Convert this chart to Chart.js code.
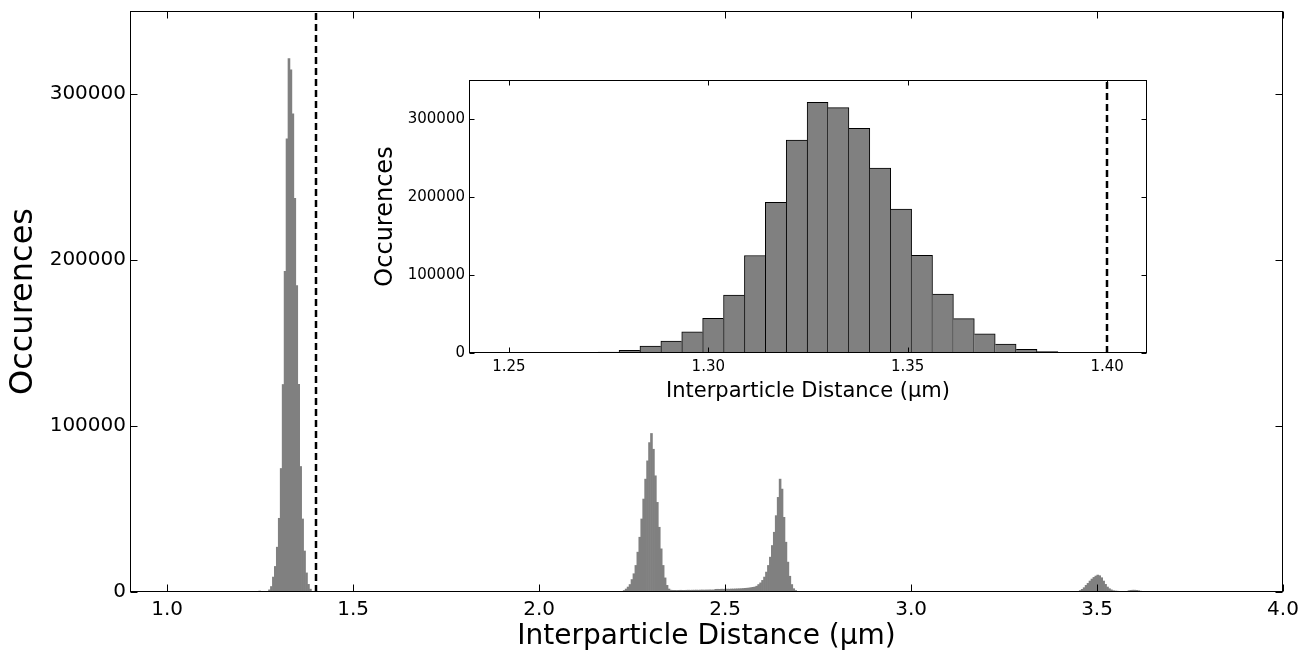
<!DOCTYPE html>
<html>
<head>
<meta charset="utf-8">
<script src="https://cdn.jsdelivr.net/npm/chart.js@4.4.1/dist/chart.umd.min.js"></script>
<style>
  html, body { margin: 0; padding: 0; background: #fff; }
  #wrap { position: relative; width: 1309px; height: 651px; overflow: hidden; }
  #main { position: absolute; left: 0; top: 0; }
  #inset { position: absolute; left: 360px; top: 60px; }
</style>
</head>
<body>
<div id="wrap">
  <canvas id="main" width="1309" height="651"></canvas>
  <canvas id="inset" width="800" height="342"></canvas>
</div>
<script>
// ---------------- data ----------------
const binWidth = 0.00524;          // histogram bin width (µm)
const firstBinCenter = 1.2488;     // centre of bin 0 (µm)

// first-neighbour peak (bins 0..26) - also shown in the inset
const peak1StartBin = 0;
const peak1Counts = [600, 0, 0, 0, 0, 1300, 3300, 9000, 15400, 27000, 44400, 74400,
  125000, 193100, 273000, 321300, 314500, 288000, 237200, 184600, 125100, 75600,
  44000, 24700, 11500, 4600, 1700];

// second and third peaks with the plateau between them (bins 186..277)
const peak2StartBin = 186;
const peak2Counts = [400, 900, 1800, 3000, 4500, 7500, 11000, 16000, 24000, 33000,
  44000, 56000, 68000, 79000, 90000, 95500, 86000, 70000, 54000, 39000, 26000, 16000,
  8500, 4000, 1800, 1100,
  1000, 1000, 950, 1000, 1050, 1000, 1000, 1050, 1100, 1050, 1100, 1100, 1150, 1100,
  1150, 1200, 1150, 1200, 1200, 1250, 1200, 1250,
  1600, 1650, 1600, 1700, 1650, 1700, 1750, 1700, 1800, 1800, 1850, 1900, 1950, 2000, 2100,
  2200, 2300, 2400, 2600, 2800,
  3000, 3500, 4500, 5500, 7000, 9000, 12000, 16000, 21000, 28000, 36000, 46000, 57000,
  68000, 62000, 45000, 30000, 18000, 9500, 4500, 2000, 900, 400, 150];

// fourth peak and the small bump after it (bins 419..453)
const peak4StartBin = 419;
const peak4Counts = [200, 400, 900, 1600, 2600, 4000, 5200, 6600, 7800, 8800, 9600,
  10200, 9800, 8600, 6600, 4600, 3000, 2000, 1300, 800, 600, 500, 400, 400, 350, 350,
  400, 800, 1000, 1100, 1100, 1000, 800, 500, 200];

const thresholdDistance = 1.40;
const mainXTicks = [1.0, 1.5, 2.0, 2.5, 3.0, 3.5, 4.0];
const insetXTicks = [1.25, 1.30, 1.35, 1.40];
const yTicks = [0, 100000, 200000, 300000];

const xTitle = 'Interparticle Distance (μm)';
const yTitle = 'Occurences';

// ---------------- build points ----------------
function binCenter(k) { return firstBinCenter + k * binWidth; }
function segment(startBin, counts) {
  return counts.map((c, i) => ({ x: binCenter(startBin + i), y: c }));
}
const mainPoints = [
  ...segment(peak1StartBin, peak1Counts),
  ...segment(peak2StartBin, peak2Counts),
  ...segment(peak4StartBin, peak4Counts)
];
const insetPoints = segment(peak1StartBin, peak1Counts);

Chart.defaults.font.family = "'DejaVu Sans', sans-serif";
Chart.defaults.color = '#000';

// frame, inward ticks on all four sides and the dashed threshold line
const frameTicks = {
  id: 'frameTicks',
  beforeDatasetsDraw(chart, args, o) {
    const { ctx, chartArea: a } = chart;
    ctx.save();
    ctx.fillStyle = '#fff';
    ctx.fillRect(a.left, a.top, a.right - a.left, a.bottom - a.top);
    ctx.restore();
  },
  afterDatasetsDraw(chart, args, o) {
    const { ctx, chartArea: a, scales: { x, y } } = chart;
    ctx.save();
    ctx.beginPath();
    ctx.rect(a.left, a.top, a.right - a.left, a.bottom - a.top);
    ctx.clip();
    const dx = Math.round(x.getPixelForValue(o.dashAt));
    ctx.beginPath();
    ctx.setLineDash(o.dash);
    ctx.lineWidth = o.dashWidth;
    ctx.strokeStyle = '#000';
    ctx.moveTo(dx, a.bottom);
    ctx.lineTo(dx, a.top);
    ctx.stroke();
    ctx.restore();

    ctx.save();
    ctx.setLineDash([]);
    ctx.strokeStyle = '#000';
    ctx.lineWidth = 1;
    const L = Math.round(a.left) + 0.5, R = Math.round(a.right) - 0.5;
    const T = Math.round(a.top) + 0.5, B = Math.round(a.bottom) - 0.5;
    ctx.beginPath();
    x.ticks.forEach(t => {
      const p = Math.round(x.getPixelForValue(t.value)) + 0.5;
      ctx.moveTo(p, B); ctx.lineTo(p, B - o.tick);
      ctx.moveTo(p, T); ctx.lineTo(p, T + o.tick);
    });
    y.ticks.forEach(t => {
      const p = Math.round(y.getPixelForValue(t.value)) + 0.5;
      ctx.moveTo(L, p); ctx.lineTo(L + o.tick, p);
      ctx.moveTo(R, p); ctx.lineTo(R - o.tick, p);
    });
    ctx.stroke();
    ctx.strokeRect(L, T, R - L, B - T);
    ctx.restore();
  }
};

function fixY(width) {
  return s => { s.width = width; s.paddingTop = 0; s.paddingBottom = 0; };
}
function fixX(height) {
  return s => { s.height = height; s.paddingLeft = 0; s.paddingRight = 0; };
}

// ---------------- main chart ----------------
new Chart(document.getElementById('main'), {
  type: 'bar',
  data: {
    datasets: [{
      data: mainPoints,
      backgroundColor: '#808080',
      borderWidth: 0,
      barPercentage: 1.0,
      categoryPercentage: 1.0
    }]
  },
  plugins: [frameTicks],
  options: {
    responsive: false,
    animation: false,
    devicePixelRatio: 1,
    layout: { padding: { top: 11, right: 26, left: 0, bottom: 0 } },
    plugins: {
      legend: { display: false },
      tooltip: { enabled: false },
      frameTicks: { dashAt: thresholdDistance, dash: [7, 4], dashWidth: 2.5, tick: 7 }
    },
    scales: {
      x: {
        type: 'linear', min: 0.9, max: 4.0, offset: false,
        afterBuildTicks: s => { s.ticks = mainXTicks.map(v => ({ value: v })); },
        afterFit: fixX(59),
        grid: { display: false, drawTicks: false },
        border: { display: false },
        ticks: { autoSkip: false, maxRotation: 0, padding: 6, color: '#000',
                 font: { size: 20 }, callback: v => Number(v).toFixed(1) },
        title: { display: true, text: xTitle, color: '#000',
                 font: { size: 28, lineHeight: 1 }, padding: { top: 0, bottom: 0 } }
      },
      y: {
        type: 'linear', min: 0, max: 350000,
        afterBuildTicks: s => { s.ticks = yTicks.map(v => ({ value: v })); },
        afterFit: fixY(130),
        grid: { display: false, drawTicks: false },
        border: { display: false },
        ticks: { padding: 4, color: '#000', font: { size: 20 }, callback: v => String(v) },
        title: { display: true, text: yTitle, color: '#000',
                 font: { size: 32, lineHeight: 1 }, padding: { top: 8, bottom: 0 } }
      }
    }
  }
});

// ---------------- inset chart ----------------
const insetVals = insetPoints.map(p => p.y);
new Chart(document.getElementById('inset'), {
  type: 'bar',
  data: {
    datasets: [{
      data: insetPoints,
      backgroundColor: '#808080',
      borderColor: '#000',
      borderSkipped: false,
      borderWidth: c => {
        const i = c.dataIndex, v = insetVals[i];
        const prev = i > 0 ? insetVals[i - 1] : -1;
        const next = i < insetVals.length - 1 ? insetVals[i + 1] : -1;
        return { top: v > 0 ? 1 : 0, bottom: 0,
                 left: v > 0 && v >= prev ? 1 : 0,
                 right: v > 0 && v > next ? 1 : 0 };
      },
      barPercentage: 1.0,
      categoryPercentage: 1.0
    }]
  },
  plugins: [frameTicks],
  options: {
    responsive: false,
    animation: false,
    devicePixelRatio: 1,
    layout: { padding: { top: 20, right: 13, left: 0, bottom: 0 } },
    plugins: {
      legend: { display: false },
      tooltip: { enabled: false },
      frameTicks: { dashAt: thresholdDistance, dash: [7, 4], dashWidth: 2.5, tick: 5 }
    },
    scales: {
      x: {
        type: 'linear', min: 1.24, max: 1.41, offset: false,
        afterBuildTicks: s => { s.ticks = insetXTicks.map(v => ({ value: v })); },
        afterFit: fixX(49),
        grid: { display: false, drawTicks: false },
        border: { display: false },
        ticks: { autoSkip: false, maxRotation: 0, padding: 5, color: '#000',
                 font: { size: 15 }, callback: v => Number(v).toFixed(2) },
        title: { display: true, text: xTitle, color: '#000',
                 font: { size: 21, lineHeight: 1 }, padding: { top: 0, bottom: 0 } }
      },
      y: {
        type: 'linear', min: 0, max: 350000,
        afterBuildTicks: s => { s.ticks = yTicks.map(v => ({ value: v })); },
        afterFit: fixY(109),
        grid: { display: false, drawTicks: false },
        border: { display: false },
        ticks: { padding: 4, color: '#000', font: { size: 15 }, callback: v => String(v) },
        title: { display: true, text: yTitle, color: '#000',
                 font: { size: 24, lineHeight: 1 }, padding: { top: 14, bottom: 0 } }
      }
    }
  }
});
</script>
</body>
</html>
